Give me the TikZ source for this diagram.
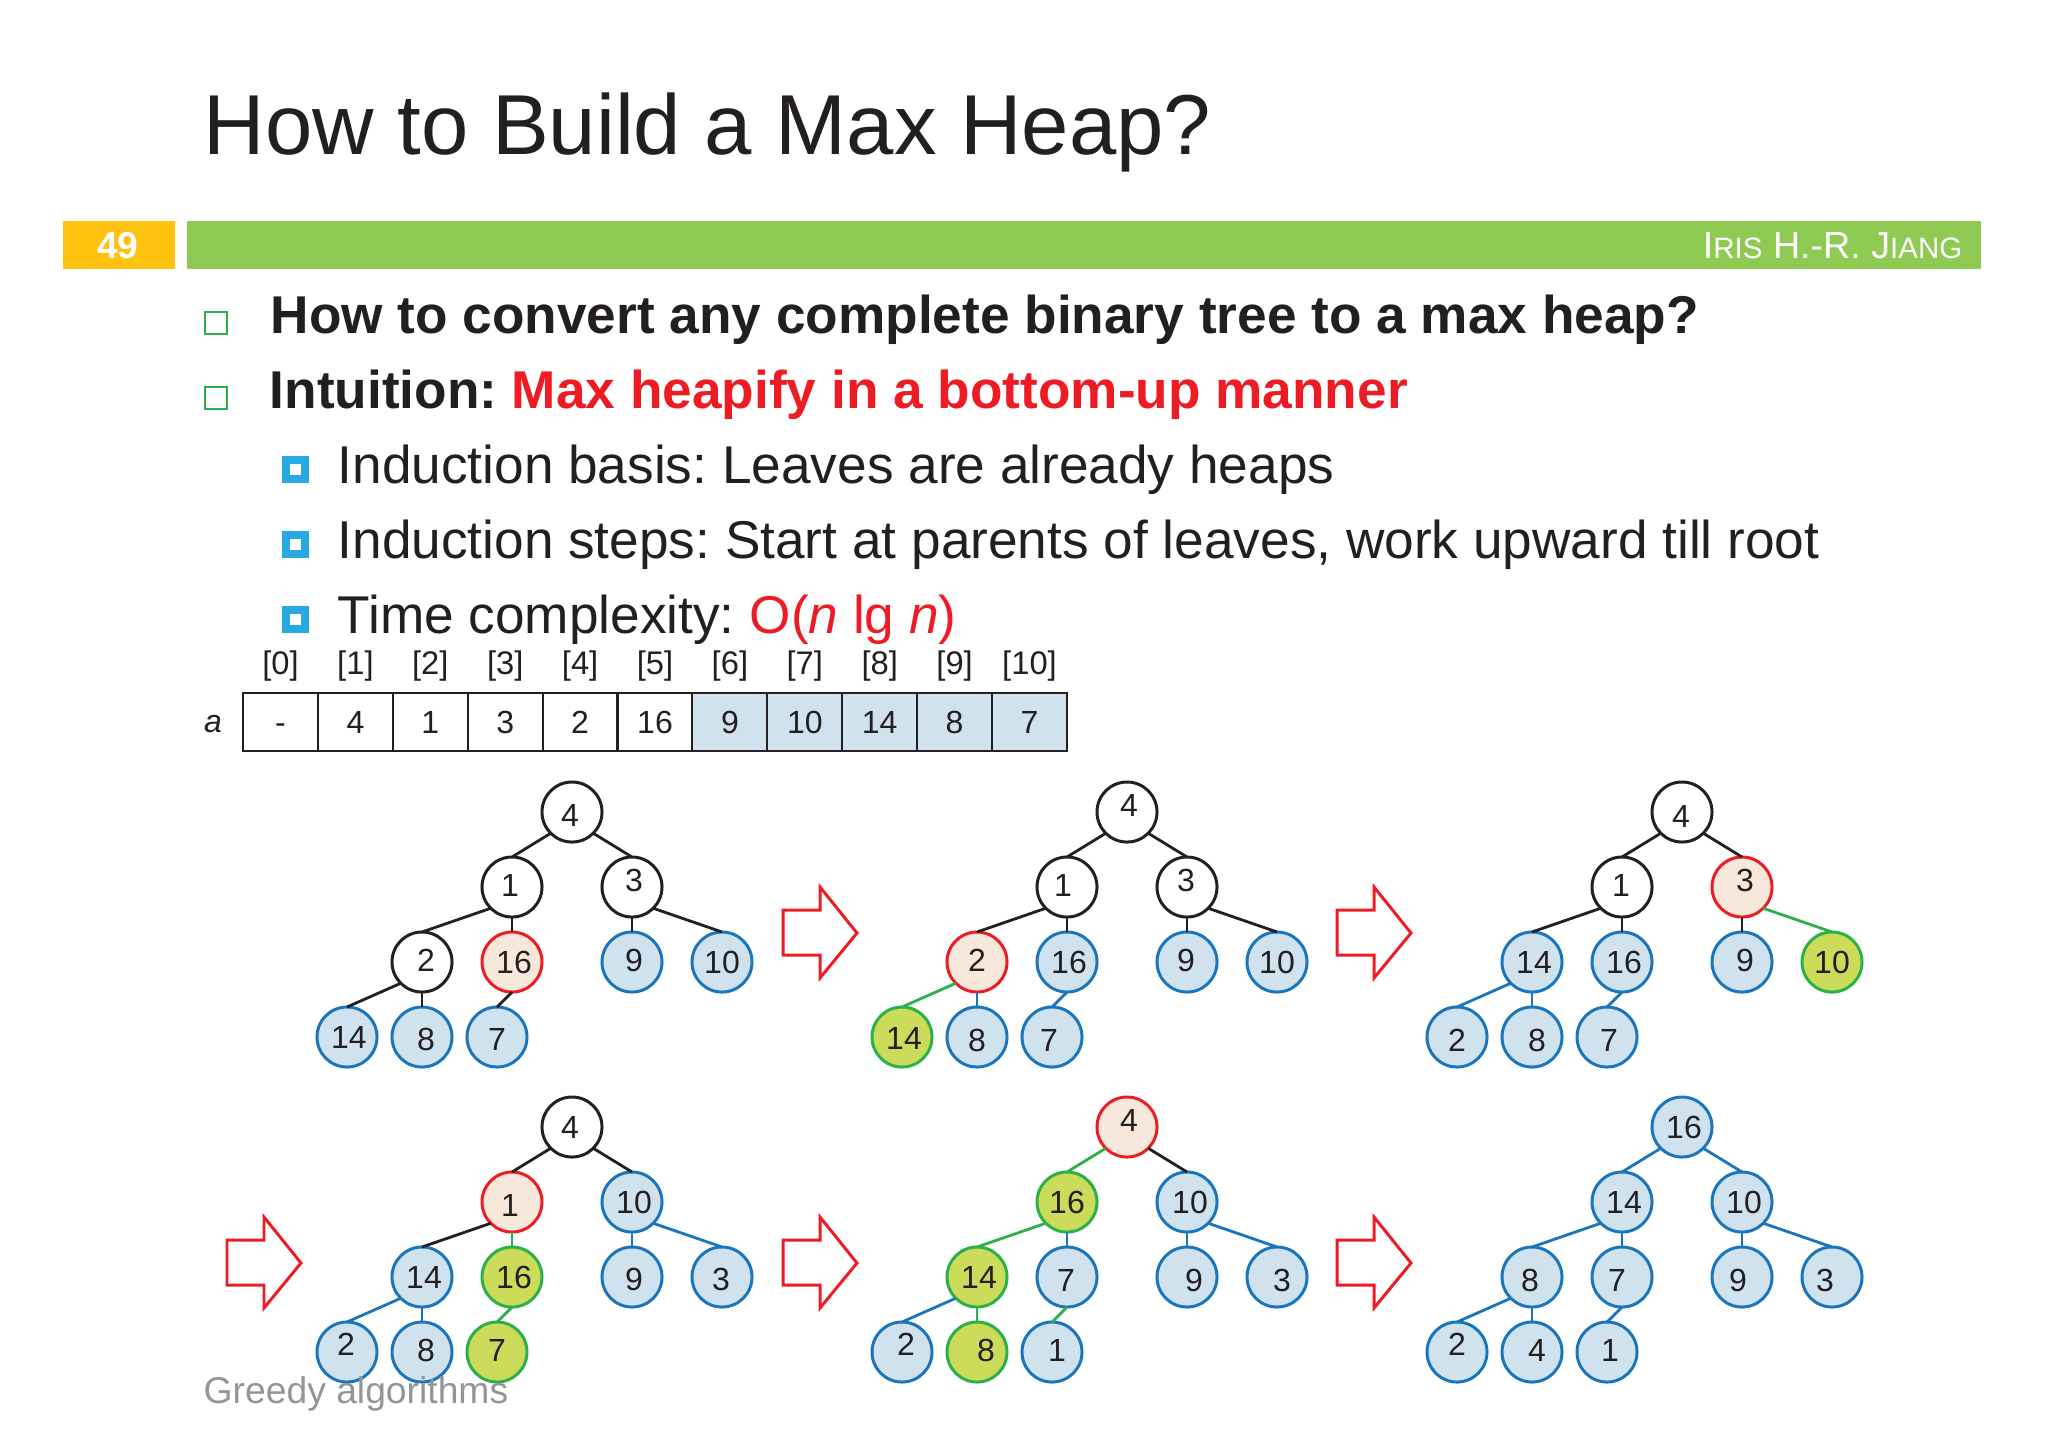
\documentclass[tikz,border=0pt]{standalone}
\usepackage{fontspec}
\setmainfont{Liberation Sans}
\frenchspacing
\definecolor{ink}{HTML}{231F20}
\definecolor{bandgreen}{HTML}{8FCB52}
\definecolor{pageorange}{HTML}{FFC20E}
\definecolor{hotred}{HTML}{ED1C24}
\definecolor{heapblue}{HTML}{1A75BB}
\definecolor{heapfill}{HTML}{D1E2EF}
\definecolor{swapgreen}{HTML}{2BB04A}
\definecolor{swapfill}{HTML}{CBDB5A}
\definecolor{activefill}{HTML}{F8E8DC}
\definecolor{skyblue}{HTML}{27AAE1}
\definecolor{footgray}{HTML}{939598}
\newdimen\pxu \pxu=0.01cm
\newcommand{\hlabel}[3]{\makebox[0pt]{\kern\dimexpr\pxu*#1*2\relax\raisebox{\dimexpr-\pxu*#2-0.36em\relax}[0pt][0pt]{#3}}}
\newcommand{\heaplayout}{
	\coordinate (a) at (0,0);
	\coordinate (b) at (-60,75);
	\coordinate (c) at (60,75);
	\coordinate (d) at (-150,150);
	\coordinate (e) at (-60,150);
	\coordinate (f) at (60,150);
	\coordinate (g) at (150,150);
	\coordinate (h) at (-225,225);
	\coordinate (i) at (-150,225);
	\coordinate (j) at (-75,225);
}
\tikzset{
	hnode/.style={circle,minimum size=0.6cm,inner sep=0,outer sep=0,line width=0.85pt,text=ink,font=\fontsize{9.1}{10}\selectfont},
	plainnode/.style={hnode,draw=ink,fill=white},
	leafnode/.style={hnode,draw=heapblue,fill=heapfill},
	activenode/.style={hnode,draw=hotred,fill=activefill},
	swapnode/.style={hnode,draw=swapgreen,fill=swapfill},
	kedge/.style={draw=ink,line width=0.8pt},
	bedge/.style={draw=heapblue,line width=0.8pt},
	gedge/.style={draw=swapgreen,line width=0.8pt},
	bodytext/.style={anchor=base west,inner sep=0,text=ink,font=\fontsize{15.13}{17}\selectfont},
	boldtext/.style={bodytext,font=\fontsize{15.13}{17}\selectfont\bfseries},
	blockarrow/.style={draw=hotred,line width=0.85pt,fill=white,miter limit=10},
	cellplain/.style={draw=ink,fill=white,line width=0.6pt,minimum width=0.749cm,minimum height=0.58cm,inner sep=0,text height=0.66em,text depth=0pt,text=ink,font=\fontsize{9.1}{10}\selectfont},
	cellblue/.style={cellplain,fill=heapfill},
	idxtext/.style={anchor=base,inner sep=0,text=ink,font=\fontsize{9.3}{10}\selectfont},
}
\begin{document}
\begin{tikzpicture}[x=0.01cm,y=-0.01cm]
	\useasboundingbox (0,0) rectangle (2048,1447);
	%%%%% header %%%%%
	\node[anchor=base west,inner sep=0,text=ink,font=\fontsize{24.2}{28}\selectfont] (title) at (203,154) {How to Build a Max Heap?};
	\fill[pageorange] (63,221) rectangle (175,269);
	\fill[bandgreen] (187,221) rectangle (1981,269);
	\node[anchor=base,inner sep=0,text=white,font=\fontsize{10.6}{12}\selectfont\bfseries] (page) at (118,258) {49};
	\node[anchor=base east,inner sep=0,text=white,font=\fontsize{10.7}{12}\selectfont] (author) at (1963,258) {I{\fontsize{8.4}{10}\selectfont RIS} H.-R. J{\fontsize{8.4}{10}\selectfont IANG}};

	%%%%% bullets %%%%%
	\foreach \y in {312,387}
		\draw[swapgreen,line width=0.55pt] (205,\y) rectangle (227,\y+22);
	\foreach \y in {456,531,606}
		\draw[skyblue,line width=2.2pt] (286,\y+4) rectangle (305,\y+23);
	\node[boldtext] (line1) at (270,333) {How to convert any complete binary tree to a max heap?};
	\node[boldtext] (line2) at (269,408) {Intuition: \textcolor{hotred}{Max heapify in a bottom-up manner}};
	\node[bodytext] (line3) at (337,483) {Induction basis: Leaves are already heaps};
	\node[bodytext] (line4) at (337,558) {Induction steps: Start at parents of leaves, work upward till root};
	\node[bodytext] (line5) at (337,633) {Time complexity: \textcolor{hotred}{O(\textit{n} lg \textit{n})}};

	%%%%% array %%%%%
	\node[anchor=base,inner sep=0,text=ink,font=\fontsize{9.1}{10}\selectfont\itshape] (aname) at (213,732) {a};
	\foreach \i/\v/\s in {0/-/cellplain,1/4/cellplain,2/1/cellplain,3/3/cellplain,4/2/cellplain,5/16/cellplain,6/9/cellblue,7/10/cellblue,8/14/cellblue,9/8/cellblue,10/7/cellblue}{
		\node[\s] (cell\i) at ({280.5+74.9*\i},722) {\v};
		\node[idxtext] (idx\i) at ({280.5+74.9*\i},674) {[\i]};
	}

	%%%%% arrows %%%%%
	\foreach \ax/\ay in {783/910,1337/910,227/1240,783/1240,1337/1240}
		\draw[blockarrow,shift={(\ax,\ay)}] (0,0) -- (37,0) -- (37,-23) -- (74,23) -- (37,68) -- (37,45) -- (0,45) -- cycle;

	%%%%% trees %%%%%
	\begin{scope}[shift={(572,812)}]
		\heaplayout
		\foreach \n/\s/\val/\ox/\oy in {a/plainnode/4/-2/3,b/plainnode/1/-2/-2,c/plainnode/3/2/-7,d/plainnode/2/4/-2,e/activenode/16/2/0,f/leafnode/9/2/-2,g/leafnode/10/0/0,h/leafnode/14/2/0,i/leafnode/8/4/2,j/leafnode/7/0/2}
			\node[\s] (p\n) at (\n) {\hlabel{\ox}{\oy}{\val}};
		\draw[kedge] (pa.south west) -- (pb.north);
		\draw[kedge] (pa.south east) -- (pc.north);
		\draw[kedge] (pb.south west) -- (pd.north);
		\draw[kedge] (pb.south) -- (pe.north);
		\draw[kedge] (pc.south) -- (pf.north);
		\draw[kedge] (pc.south east) -- (pg.north);
		\draw[kedge] (pd.south west) -- (ph.north);
		\draw[kedge] (pd.south) -- (pi.north);
		\draw[kedge] (pe.south) -- (pj.north);
	\end{scope}

	\begin{scope}[shift={(1127,812)}]
		\heaplayout
		\foreach \n/\s/\val/\ox/\oy in {a/plainnode/4/2/-7,b/plainnode/1/-4/-2,c/plainnode/3/-1/-7,d/activenode/2/0/-2,e/leafnode/16/2/0,f/leafnode/9/-1/-2,g/leafnode/10/0/0,h/swapnode/14/2/1,i/leafnode/8/0/3,j/leafnode/7/-3/3}
			\node[\s] (q\n) at (\n) {\hlabel{\ox}{\oy}{\val}};
		\draw[kedge] (qa.south west) -- (qb.north);
		\draw[kedge] (qa.south east) -- (qc.north);
		\draw[kedge] (qb.south west) -- (qd.north);
		\draw[kedge] (qb.south) -- (qe.north);
		\draw[kedge] (qc.south) -- (qf.north);
		\draw[kedge] (qc.south east) -- (qg.north);
		\draw[gedge] (qd.south west) -- (qh.north);
		\draw[bedge] (qd.south) -- (qi.north);
		\draw[bedge] (qe.south) -- (qj.north);
	\end{scope}

	\begin{scope}[shift={(1682,812)}]
		\heaplayout
		\foreach \n/\s/\val/\ox/\oy in {a/plainnode/4/-1/4,b/plainnode/1/-1/-2,c/activenode/3/3/-7,d/leafnode/14/2/0,e/leafnode/16/2/0,f/leafnode/9/3/-2,g/swapnode/10/0/0,h/leafnode/2/0/3,i/leafnode/8/5/3,j/leafnode/7/2/3}
			\node[\s] (r\n) at (\n) {\hlabel{\ox}{\oy}{\val}};
		\draw[kedge] (ra.south west) -- (rb.north);
		\draw[kedge] (ra.south east) -- (rc.north);
		\draw[kedge] (rb.south west) -- (rd.north);
		\draw[kedge] (rb.south) -- (re.north);
		\draw[kedge] (rc.south) -- (rf.north);
		\draw[gedge] (rc.south east) -- (rg.north);
		\draw[bedge] (rd.south west) -- (rh.north);
		\draw[bedge] (rd.south) -- (ri.north);
		\draw[bedge] (re.south) -- (rj.north);
	\end{scope}

	\begin{scope}[shift={(572,1127)}]
		\heaplayout
		\foreach \n/\s/\val/\ox/\oy in {a/plainnode/4/-2/0,b/activenode/1/-2/3,c/leafnode/10/2/0,d/leafnode/14/2/0,e/swapnode/16/2/0,f/leafnode/9/2/2,g/leafnode/3/-1/2,h/leafnode/2/-1/-8,i/leafnode/8/4/-2,j/swapnode/7/0/-2}
			\node[\s] (s\n) at (\n) {\hlabel{\ox}{\oy}{\val}};
		\draw[kedge] (sa.south west) -- (sb.north);
		\draw[kedge] (sa.south east) -- (sc.north);
		\draw[kedge] (sb.south west) -- (sd.north);
		\draw[gedge] (sb.south) -- (se.north);
		\draw[bedge] (sc.south) -- (sf.north);
		\draw[bedge] (sc.south east) -- (sg.north);
		\draw[bedge] (sd.south west) -- (sh.north);
		\draw[bedge] (sd.south) -- (si.north);
		\draw[gedge] (se.south) -- (sj.north);
	\end{scope}

	\begin{scope}[shift={(1127,1127)}]
		\heaplayout
		\foreach \n/\s/\val/\ox/\oy in {a/activenode/4/2/-7,b/swapnode/16/0/0,c/leafnode/10/3/0,d/swapnode/14/2/0,e/leafnode/7/-1/3,f/leafnode/9/7/3,g/leafnode/3/5/3,h/leafnode/2/4/-8,i/swapnode/8/9/-2,j/leafnode/1/5/-2}
			\node[\s] (t\n) at (\n) {\hlabel{\ox}{\oy}{\val}};
		\draw[gedge] (ta.south west) -- (tb.north);
		\draw[kedge] (ta.south east) -- (tc.north);
		\draw[gedge] (tb.south west) -- (td.north);
		\draw[bedge] (tb.south) -- (te.north);
		\draw[bedge] (tc.south) -- (tf.north);
		\draw[bedge] (tc.south east) -- (tg.north);
		\draw[bedge] (td.south west) -- (th.north);
		\draw[gedge] (td.south) -- (ti.north);
		\draw[gedge] (te.south) -- (tj.north);
	\end{scope}

	\begin{scope}[shift={(1682,1127)}]
		\heaplayout
		\foreach \n/\s/\val/\ox/\oy in {a/leafnode/16/2/0,b/leafnode/14/2/0,c/leafnode/10/2/0,d/leafnode/8/-2/3,e/leafnode/7/-5/3,f/leafnode/9/-4/3,g/leafnode/3/-7/3,h/leafnode/2/0/-8,i/leafnode/4/5/-2,j/leafnode/1/3/-2}
			\node[\s] (u\n) at (\n) {\hlabel{\ox}{\oy}{\val}};
		\draw[bedge] (ua.south west) -- (ub.north);
		\draw[bedge] (ua.south east) -- (uc.north);
		\draw[bedge] (ub.south west) -- (ud.north);
		\draw[bedge] (ub.south) -- (ue.north);
		\draw[bedge] (uc.south) -- (uf.north);
		\draw[bedge] (uc.south east) -- (ug.north);
		\draw[bedge] (ud.south west) -- (uh.north);
		\draw[bedge] (ud.south) -- (ui.north);
		\draw[bedge] (ue.south) -- (uj.north);
	\end{scope}

	%%%%% footer %%%%%
	\node[anchor=base west,inner sep=0,text=footgray,font=\fontsize{10.6}{12}\selectfont] (foot) at (203,1403) {Greedy algorithms};
\end{tikzpicture}
\end{document}
